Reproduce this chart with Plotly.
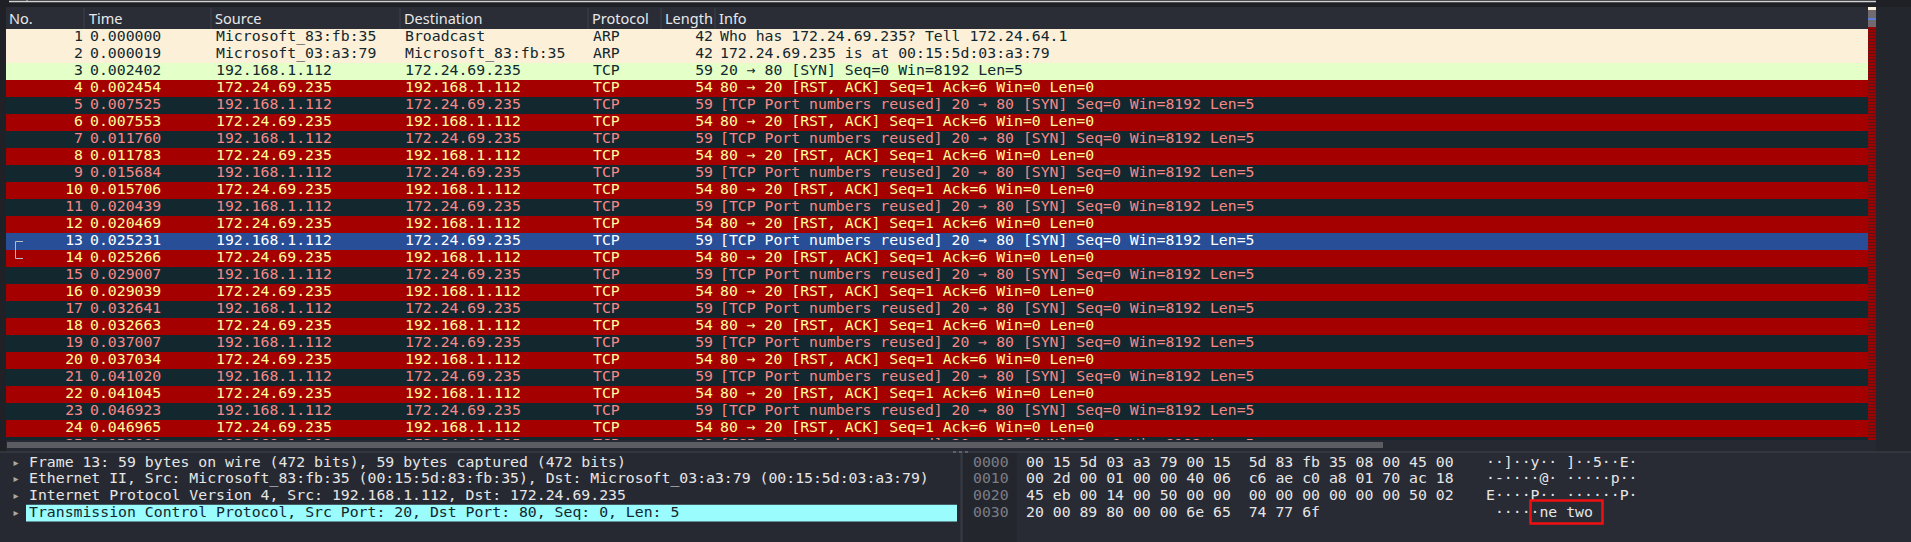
import plotly.graph_objects as go

W, H = 1911, 542

# ---------------- data ----------------
pkt_no = [1, 2, 3, 4, 5, 6, 7, 8, 9, 10, 11, 12, 13, 14, 15, 16, 17, 18, 19, 20, 21, 22, 23, 24, 25]
pkt_time = ["0.000000", "0.000019", "0.002402", "0.002454", "0.007525", "0.007553",
            "0.011760", "0.011783", "0.015684", "0.015706", "0.020439", "0.020469",
            "0.025231", "0.025266", "0.029007", "0.029039", "0.032641", "0.032663",
            "0.037007", "0.037034", "0.041020", "0.041045", "0.046923", "0.046965",
            "0.051088"]
A, B = "192.168.1.112", "172.24.69.235"
pkt_src = ["Microsoft_83:fb:35", "Microsoft_03:a3:79", A, B, A, B, A, B, A, B, A, B,
           A, B, A, B, A, B, A, B, A, B, A, B, A]
pkt_dst = ["Broadcast", "Microsoft_83:fb:35", B, A, B, A, B, A, B, A, B, A,
           B, A, B, A, B, A, B, A, B, A, B, A, B]
pkt_proto = ["ARP", "ARP", "TCP", "TCP", "TCP", "TCP", "TCP", "TCP", "TCP", "TCP", "TCP", "TCP",
             "TCP", "TCP", "TCP", "TCP", "TCP", "TCP", "TCP", "TCP", "TCP", "TCP", "TCP", "TCP", "TCP"]
pkt_len = [42, 42, 59, 54, 59, 54, 59, 54, 59, 54, 59, 54, 59, 54, 59, 54, 59, 54, 59, 54, 59, 54, 59, 54, 59]
SYN = "20 → 80 [SYN] Seq=0 Win=8192 Len=5"
RST = "80 → 20 [RST, ACK] Seq=1 Ack=6 Win=0 Len=0"
REU = "[TCP Port numbers reused] 20 → 80 [SYN] Seq=0 Win=8192 Len=5"
pkt_info = ["Who has 172.24.69.235? Tell 172.24.64.1",
            "172.24.69.235 is at 00:15:5d:03:a3:79",
            SYN, RST, REU, RST, REU, RST, REU, RST, REU, RST,
            REU, RST, REU, RST, REU, RST, REU, RST, REU, RST, REU, RST, REU]
pkt_kind = ["arp", "arp", "syn", "rst", "bad", "rst", "bad", "rst", "bad", "rst", "bad", "rst",
            "bad", "rst", "bad", "rst", "bad", "rst", "bad", "rst", "bad", "rst", "bad", "rst", "bad"]
selected_no = 13
related_no = 14

columns = ["No.", "Time", "Source", "Destination", "Protocol", "Length", "Info"]

tree_items = ["Frame 13: 59 bytes on wire (472 bits), 59 bytes captured (472 bits)",
              "Ethernet II, Src: Microsoft_83:fb:35 (00:15:5d:83:fb:35), Dst: Microsoft_03:a3:79 (00:15:5d:03:a3:79)",
              "Internet Protocol Version 4, Src: 192.168.1.112, Dst: 172.24.69.235",
              "Transmission Control Protocol, Src Port: 20, Dst Port: 80, Seq: 0, Len: 5"]
tree_selected = 3
hex_offsets = ["0000", "0010", "0020", "0030"]
hex_bytes = ["00 15 5d 03 a3 79 00 15  5d 83 fb 35 08 00 45 00",
             "00 2d 00 01 00 00 40 06  c6 ae c0 a8 01 70 ac 18",
             "45 eb 00 14 00 50 00 00  00 00 00 00 00 00 50 02",
             "20 00 89 80 00 00 6e 65  74 77 6f"]
hex_ascii = ["··]··y·· ]··5··E·",
             "·-····@· ·····p··",
             "E····P·· ······P·",
             " ·····ne two"]

# ---------------- styles ----------------
MONO = "DejaVu Sans Mono"
SANS = "Noto Sans"
FS = 14.8
ROW_STYLE = {"arp": ("#fcf0d8", "#12272e"),
             "syn": ("#e4ffc7", "#12272e"),
             "rst": ("#a40000", "#fffc9c"),
             "bad": ("#12272e", "#f78787"),
             "sel": ("#284e98", "#ffffff")}
BG = "#262932"


def py(p):  # pixel row -> paper fraction
    return 1 - p / H


kinds = ["sel" if n == selected_no else k for n, k in zip(pkt_no, pkt_kind)]
row_bg = [ROW_STYLE[k][0] for k in kinds]
row_fg = [ROW_STYLE[k][1] for k in kinds]

ROW_X0, ROW_X1 = 6, 1868
# packet list subplot: pixel 7..440, row n centre = 20.5 + 17 n
y1_range = [(440 - 20.5) / 17, (7 - 20.5) / 17]
# detail subplot: pixel 452..542, line i centre = 463 + 16.75 i
y2_range = [(542 - 463) / 16.75, (452 - 463) / 16.75]

fig = go.Figure()

fig.add_trace(go.Bar(orientation="h", y=pkt_no, x=[ROW_X1 - ROW_X0] * len(pkt_no), base=ROW_X0,
                     width=1, marker=dict(color=row_bg, line=dict(width=0)),
                     hoverinfo="skip", xaxis="x", yaxis="y"))

col_specs = [(83, "middle left", [str(v) for v in pkt_no]),
             (90, "middle right", pkt_time),
             (216, "middle right", pkt_src),
             (405, "middle right", pkt_dst),
             (593, "middle right", pkt_proto),
             (713, "middle left", [str(v) for v in pkt_len]),
             (720, "middle right", pkt_info)]
for xpos, tp, vals in col_specs:
    fig.add_trace(go.Scatter(x=[xpos] * len(vals), y=pkt_no, mode="text", text=vals,
                             textposition=tp, hoverinfo="skip",
                             textfont=dict(family=MONO, size=FS, color=row_fg),
                             xaxis="x", yaxis="y"))

# related-packet bracket
fig.add_trace(go.Scatter(x=[23, 15.5, 15.5, 23], y=[selected_no, selected_no, related_no, related_no],
                         mode="lines", line=dict(color="#b9bcc0", width=1), hoverinfo="skip",
                         xaxis="x", yaxis="y"))

# minimap (packet colour overview)
fig.add_trace(go.Bar(x=[1872], y=[y1_range[0] - 0.38], base=[0.38], width=[8],
                     marker=dict(color="#a40000", line=dict(width=0),
                                 pattern=dict(shape="-", fgcolor="#12272e", size=3,
                                              solidity=0.4, fillmode="overlay")),
                     hoverinfo="skip", xaxis="x", yaxis="y"))

# ---- detail panel ----
lines_idx = [0, 1, 2, 3]
tree_fg = ["#12272e" if i == tree_selected else "#e6e6e6" for i in lines_idx]
fig.add_trace(go.Scatter(x=[16] * 4, y=lines_idx, mode="text", text=["▸"] * 4,
                         textposition="middle center", hoverinfo="skip",
                         textfont=dict(family="DejaVu Sans", size=10, color="#a8a8a8"),
                         xaxis="x", yaxis="y2"))
fig.add_trace(go.Scatter(x=[29] * 4, y=lines_idx, mode="text", text=tree_items,
                         textposition="middle right", hoverinfo="skip",
                         textfont=dict(family=MONO, size=FS, color=tree_fg),
                         xaxis="x", yaxis="y2"))
nb = lambda s: s.replace(" ", "\u00a0")
fig.add_trace(go.Scatter(x=[973] * 4, y=lines_idx, mode="text", text=hex_offsets,
                         textposition="middle right", hoverinfo="skip",
                         textfont=dict(family=MONO, size=FS, color="#7b7e86"),
                         xaxis="x", yaxis="y2"))
fig.add_trace(go.Scatter(x=[1026] * 4, y=lines_idx, mode="text", text=[nb(s) for s in hex_bytes],
                         textposition="middle right", hoverinfo="skip",
                         textfont=dict(family=MONO, size=FS, color="#e6e6e6"),
                         xaxis="x", yaxis="y2"))
fig.add_trace(go.Scatter(x=[1486] * 4, y=lines_idx, mode="text", text=[nb(s) for s in hex_ascii],
                         textposition="middle right", hoverinfo="skip",
                         textfont=dict(family=MONO, size=FS, color="#e6e6e6"),
                         xaxis="x", yaxis="y2"))

shapes = []


def rect(x0, x1, p0, p1, fill, layer="below"):
    shapes.append(dict(type="rect", xref="x", yref="paper", x0=x0, x1=x1, y0=py(p1), y1=py(p0),
                       fillcolor=fill, line=dict(width=0), layer=layer))


def hline(x0, x1, p, color, width=1, layer="below", dash="solid"):
    shapes.append(dict(type="line", xref="x", yref="paper", x0=x0, x1=x1, y0=py(p), y1=py(p),
                       line=dict(color=color, width=width, dash=dash), layer=layer))


def vline(x, p0, p1, color, width=1, layer="below"):
    shapes.append(dict(type="line", xref="x", yref="paper", x0=x, x1=x, y0=py(p1), y1=py(p0),
                       line=dict(color=color, width=width), layer=layer))


rect(0, W, 0, 7, "#1e2026")
rect(0, 6, 7, 452, "#1f2127")
rect(6, ROW_X1, 7, 29, "#2a2d36")
rect(1876, W, 7, 452, "#24262d")
for sx in [84, 211, 400, 588, 661, 715]:
    vline(sx, 8, 29, "#3e424c")
rect(6, ROW_X1, 440, 452, "#262931")
rect(0, 960, 453, H, "#262932")
rect(963, W, 453, H, "#282a34")
rect(963, 1017, 453, H, "#24262e")
hline(0, W, 452, "#383b43", 1.5)
vline(961.5, 453, H, "#383b43", 2)
# tree selection highlight
shapes.append(dict(type="rect", xref="x", yref="y2", x0=26, x1=957,
                   y0=tree_selected - 0.5, y1=tree_selected + 0.5,
                   fillcolor="#9bfcfd", line=dict(width=0), layer="below"))

# overlays
rect(7, 1383, 442, 448, "#5b5d63", layer="above")
hline(9, 1876, 1.5, "#d2d2d2", 1.5, layer="above")
vline(27, 0, 2, "#d2d2d2", 1, layer="above")
rect(1868, 1876, 7, 10, "#fcf0d8", layer="above")
rect(1868, 1876, 10, 27, "rgba(255,230,230,0.35)", layer="above")
hline(1868, 1876, 19, "#5a7fd6", 2, layer="above")
hline(953, 970, 452, "#8a8d94", 1, layer="above", dash="dot")  # splitter handle
shapes.append(dict(type="rect", xref="x", yref="paper", x0=1530.5, x1=1602.5, y0=py(523.5), y1=py(500.5),
                   line=dict(color="#f01010", width=2.5), fillcolor="rgba(0,0,0,0)", layer="above"))

annotations = []
hdr_x = [8, 88, 214, 403, 591, 664, 718]
for label, hx in zip(columns, hdr_x):
    annotations.append(dict(text=label, x=hx, y=py(18), xref="x", yref="paper",
                            xanchor="left", yanchor="middle", showarrow=False, borderpad=0,
                            font=dict(family=SANS, size=14.5, color="#e8e8ea")))

fig.update_layout(
    width=W, height=H, autosize=False,
    margin=dict(l=0, r=0, t=0, b=0, pad=0),
    paper_bgcolor=BG, plot_bgcolor="rgba(0,0,0,0)",
    showlegend=False, barmode="overlay", bargap=0,
    xaxis=dict(range=[0, W], domain=[0, 1], visible=False, fixedrange=True),
    yaxis=dict(range=y1_range, domain=[py(440), py(7)], visible=False, fixedrange=True),
    yaxis2=dict(range=y2_range, domain=[0, py(452)], visible=False, fixedrange=True, anchor="x"),
    shapes=shapes, annotations=annotations,
)

fig.write_html("out.html", config={"displayModeBar": False, "staticPlot": True},
               post_script="document.body.style.margin='0';document.body.style.overflow='hidden';")
